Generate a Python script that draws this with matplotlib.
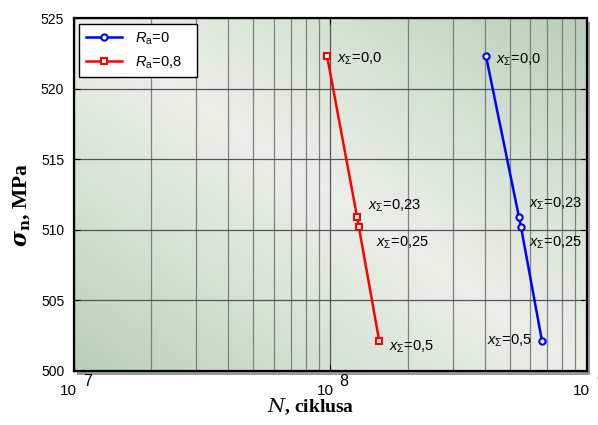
import matplotlib
matplotlib.use('Agg')
import matplotlib.pyplot as plt
import matplotlib.transforms as mtransforms
from matplotlib.patches import Rectangle
import numpy as np

plt.rcParams['font.family'] = ['Liberation Sans', 'DejaVu Sans']
plt.rcParams['mathtext.fontset'] = 'custom'
plt.rcParams['mathtext.rm'] = 'Liberation Sans'
plt.rcParams['mathtext.it'] = 'Liberation Sans:italic'
plt.rcParams['mathtext.bf'] = 'Liberation Sans:bold'

# data
labels_x = ['0,0', '0,23', '0,25', '0,5']
N_r0 = [4.04e8, 5.43e8, 5.53e8, 6.68e8]
N_r08 = [9.7e7, 1.27e8, 1.29e8, 1.55e8]
sigma = [522.3, 510.9, 510.2, 502.1]
decades = [7, 8, 9]
y_ticks = [500, 505, 510, 515, 520, 525]

# label offsets in pixels (dx, dy, ha)
offs_r0 = [(10, -4, 'left'), (10, 13, 'left'), (8, -16, 'left'), (-10, 1, 'right')]
offs_r08 = [(10, -3, 'left'), (11, 11, 'left'), (17, -16, 'left'), (10, -5, 'left')]

fig = plt.figure(figsize=(5.98, 4.25), dpi=100)
ax = fig.add_axes([0.1237, 0.1271, 0.8579, 0.8305])

# gradient background
u, v = np.meshgrid(np.linspace(0, 1, 300), np.linspace(0, 1, 300))
t = np.clip(np.abs(u + v - 1), 0, 1) ** 1.2
light = np.array([0.915, 0.935, 0.905])
dark = np.array([0.72, 0.81, 0.72])
img = light[None, None, :] * (1 - t[..., None]) + dark[None, None, :] * t[..., None]
ax.imshow(img, extent=[0, 1, 0, 1], transform=ax.transAxes, origin='lower',
          aspect='auto', zorder=0, interpolation='bilinear')

# shadow under the frame
shadow = Rectangle((0.006, -0.012), 1.0, 1.0, facecolor='#9a9a9a',
                   edgecolor='none', zorder=-1, clip_on=False)
fig.add_artist(shadow)
shadow.set_transform(ax.transAxes)

ax.set_xscale('log')
ax.set_xlim(10.0 ** decades[0], 10.0 ** decades[-1])
ax.set_ylim(y_ticks[0], y_ticks[-1])
ax.set_yticks(y_ticks)

ax.grid(which='major', color='#555555', linewidth=0.9, zorder=1)
ax.grid(which='minor', axis='x', color='#808080', linewidth=0.9, zorder=1)
ax.set_axisbelow(True)

ax.plot(N_r0, sigma, '-o', color='blue', lw=1.8, ms=4.5, mfc='white', mew=1.5,
        label=r'$R_{\mathrm{a}}$=0', zorder=3)
ax.plot(N_r08, sigma, '-s', color='red', lw=1.8, ms=4.5, mfc='white', mew=1.5,
        label=r'$R_{\mathrm{a}}$=0,8' + '   ', zorder=3)

for xs, offs in [(N_r0, offs_r0), (N_r08, offs_r08)]:
    for xv, yv, lab, (dx, dy, ha) in zip(xs, sigma, labels_x, offs):
        ax.annotate(r'$x_{\Sigma}$=' + lab, (xv, yv), xytext=(dx, dy),
                    textcoords='offset pixels', ha=ha, va='center',
                    fontsize=10.5, color='black', zorder=4)

ax.tick_params(which='both', direction='in', top=True, right=True, labelsize=10)
ax.tick_params(axis='y', pad=7)
ax.tick_params(which='major', length=4)
ax.tick_params(which='minor', length=0)
ax.set_xticks([10.0 ** d for d in decades])
ax.set_xticklabels([])
trans = mtransforms.blended_transform_factory(ax.transData, ax.transAxes)
for d in decades:
    ax.annotate('10', (10.0 ** d, 0), xycoords=trans, xytext=(3, -27),
                textcoords='offset pixels', ha='right', va='bottom', fontsize=11,
                annotation_clip=False)
    ax.annotate(str(d), (10.0 ** d, 0), xycoords=trans, xytext=(9, -18),
                textcoords='offset pixels', ha='left', va='bottom', fontsize=11.5,
                annotation_clip=False)

for s in ax.spines.values():
    s.set_linewidth(1.6)
    s.set_color('black')
    s.set_zorder(5)

fig.text(0.52, 0.018, r'$\mathbf{\mathit{N}}$, ciklusa', family='Liberation Serif',
         fontweight='bold', fontsize=14, ha='center', va='bottom',
         math_fontfamily='dejavuserif')
fig.text(0.037, 0.518, r'$\boldsymbol{\sigma}_{\mathbf{n}}$, MPa', family='Liberation Serif',
         fontweight='bold', fontsize=15.5, ha='center', va='center', rotation=90,
         math_fontfamily='dejavuserif')

leg = ax.legend(loc='upper left', bbox_to_anchor=(0.01, 0.983), fontsize=10.5,
                frameon=True, fancybox=False, edgecolor='black', framealpha=1,
                facecolor='white', handlelength=2.5, handletextpad=0.9,
                borderpad=0.45, labelspacing=0.5, borderaxespad=0)
leg.get_frame().set_linewidth(1.0)
leg.set_zorder(6)

fig.savefig('out.png', dpi=100)
